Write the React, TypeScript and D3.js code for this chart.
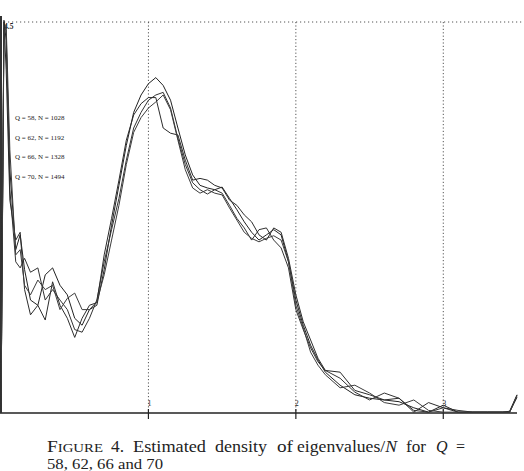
import React from 'react';
import * as d3 from 'd3';

// eigenvalue / N sample positions shared by all four estimates
const eig = [
  0, 0.02, 0.035, 0.06, 0.1, 0.13, 0.16, 0.2, 0.25, 0.3, 0.35, 0.4, 0.45, 0.5, 0.55, 0.6,
  0.65, 0.7, 0.75, 0.8, 0.85, 0.9, 0.95, 1.0, 1.05, 1.1, 1.15, 1.2, 1.25, 1.3, 1.35, 1.4,
  1.45, 1.5, 1.55, 1.6, 1.65, 1.7, 1.75, 1.8, 1.85, 1.9, 1.95, 2.0, 2.05, 2.1, 2.15, 2.2,
  2.3, 2.4, 2.5, 2.6, 2.7, 2.8, 2.9, 3.0, 3.1, 3.2, 3.3, 3.4, 3.45, 3.5,
];

const q58 = [
  0, 4.52, 4.29, 2.8, 1.88, 2.05, 1.65, 1.3, 1.24, 1.59, 1.67, 1.47, 1.36, 1.09, 1.01, 1.19,
  1.24, 1.65, 2.16, 2.62, 3.08, 3.46, 3.66, 3.79, 3.86, 3.77, 3.6, 3.28, 2.97, 2.74, 2.62, 2.59,
  2.57, 2.6, 2.47, 2.34, 2.2, 2.08, 1.99, 2.05, 2.11, 2.05, 1.74, 1.3, 1.01, 0.78, 0.61, 0.47,
  0.32, 0.21, 0.17, 0.15, 0.13, 0.06, 0.01, 0.09, 0.01, 0.01, 0.01, 0.01, 0.02, 0.21,
];
const q62 = [
  0, 4.43, 4.41, 2.57, 1.74, 1.67, 1.78, 1.62, 1.67, 1.3, 1.42, 1.3, 1.19, 0.96, 0.93, 1.09,
  1.3, 1.74, 2.11, 2.47, 2.91, 3.28, 3.46, 3.6, 3.66, 3.69, 3.51, 3.16, 2.86, 2.65, 2.57, 2.52,
  2.57, 2.53, 2.39, 2.24, 2.13, 1.99, 2.11, 2.13, 1.99, 1.9, 1.67, 1.19, 0.96, 0.75, 0.59, 0.49,
  0.4, 0.24, 0.15, 0.23, 0.17, 0.03, 0.01, 0.06, 0.03, 0.01, 0.01, 0.01, 0.01, 0.2,
];
const q66 = [
  0, 4.5, 3.95, 2.45, 1.99, 2.08, 1.42, 1.13, 1.24, 1.07, 1.51, 1.24, 1.09, 0.87, 1.09, 1.24,
  1.27, 1.82, 2.24, 2.68, 3.14, 3.43, 3.56, 3.63, 3.63, 3.28, 3.22, 3.2, 2.91, 2.68, 2.7, 2.68,
  2.62, 2.59, 2.45, 2.39, 2.28, 2.2, 2.05, 1.99, 2.13, 2.08, 1.78, 1.36, 1.05, 0.84, 0.63, 0.49,
  0.47, 0.26, 0.21, 0.15, 0.17, 0.01, 0.12, 0.06, 0.01, 0.01, 0.01, 0.01, 0.01, 0.18,
];
const q70 = [
  0, 4.35, 4.47, 3.03, 1.82, 1.88, 1.47, 1.36, 1.53, 1.42, 1.47, 1.19, 1.32, 1.38, 1.19, 1.19,
  1.28, 1.59, 1.99, 2.39, 2.86, 3.23, 3.4, 3.51, 3.58, 3.66, 3.49, 3.14, 2.8, 2.59, 2.53, 2.57,
  2.53, 2.51, 2.36, 2.22, 2.08, 2.01, 1.97, 2.01, 2.04, 1.99, 1.74, 1.24, 0.98, 0.7, 0.55, 0.44,
  0.29, 0.32, 0.23, 0.12, 0.09, 0.15, 0.03, 0.01, 0.01, 0.01, 0.01, 0.01, 0.01, 0.2,
];

const seriesLabels = ['Q = 58, N = 1028', 'Q = 62, N = 1192', 'Q = 66, N = 1328', 'Q = 70, N = 1494'];
const xTicks = [1, 2, 3];
const xMax = 3.5;
const yMax = 4.5;

const serif = '"Liberation Serif", "Times New Roman", serif';

export default function App() {
  const width = 524;
  const height = 471;
  const x = d3.scaleLinear().domain([0, xMax]).range([1, 517]);
  const y = d3.scaleLinear().domain([0, yMax]).range([413, 22]);

  const line = d3
    .line<number>()
    .x((_, i) => x(eig[i]))
    .y((d) => y(d));

  const series = [q58, q62, q66, q70];
  const strokes = ['#222', '#333', '#2c2c2c', '#3c3c3c'];

  return (
    <svg
      width={width}
      height={height}
      style={{ position: 'absolute', left: 0, top: 0, background: '#fff' }}
    >
      {/* dotted grid: top border and one vertical per tick */}
      <line x1={0} x2={width} y1={y(yMax)} y2={y(yMax)} stroke="#555" strokeWidth={1} strokeDasharray="1.2 2.8" />
      {xTicks.map((t) => (
        <line key={t} x1={x(t)} x2={x(t)} y1={y(yMax)} y2={y(0)} stroke="#555" strokeWidth={1} strokeDasharray="1.2 2.2" />
      ))}

      {/* axes */}
      <line x1={1} x2={1} y1={16} y2={y(0)} stroke="#333" strokeWidth={2} />
      <line x1={0} x2={x(xMax)} y1={y(0)} y2={y(0)} stroke="#222" strokeWidth={1.5} />
      {xTicks.map((t) => (
        <g key={t}>
          <line x1={x(t)} x2={x(t)} y1={y(0) - 4} y2={y(0) + 6} stroke="#222" strokeWidth={1.2} />
          <text x={x(t) + 1} y={y(0) - 7} fontSize={8} fontFamily={serif} textAnchor="middle" fill="#222">
            {t}
          </text>
        </g>
      ))}
      <text x={4} y={y(yMax) + 7} fontSize={7.5} fontWeight="bold" fontFamily={serif} fill="#222">
        {yMax}
      </text>

      {/* density estimates */}
      {series.map((s, i) => (
        <path key={i} d={line(s) ?? ''} fill="none" stroke={strokes[i]} strokeWidth={1} strokeLinejoin="round" />
      ))}

      {/* legend */}
      {seriesLabels.map((lab, i) => (
        <text key={lab} x={15} y={120 + i * 19.7} fontSize={7} fontFamily={serif} fill="#222">
          {lab}
        </text>
      ))}

      {/* caption */}
      <g fontFamily={serif} fontSize={16} fill="#222">
        <text x={47} y={452} textLength={56} lengthAdjust="spacingAndGlyphs">
          F<tspan fontSize={12.3}>IGURE</tspan>
        </text>
        <text x={111} y={452} textLength={13} lengthAdjust="spacingAndGlyphs">4.</text>
        <text x={133} y={452} textLength={73} lengthAdjust="spacingAndGlyphs">Estimated</text>
        <text x={215} y={452} textLength={52} lengthAdjust="spacingAndGlyphs">density</text>
        <text x={277} y={452} textLength={16} lengthAdjust="spacingAndGlyphs">of</text>
        <text x={297} y={452} textLength={100} lengthAdjust="spacingAndGlyphs">
          eigenvalues/<tspan fontStyle="italic">N</tspan>
        </text>
        <text x={406} y={452} textLength={20} lengthAdjust="spacingAndGlyphs">for</text>
        <text x={436} y={452} fontStyle="italic">Q</text>
        <text x={456} y={452}>=</text>
        <text x={47} y={469} fontSize={15} textLength={116} lengthAdjust="spacingAndGlyphs">58, 62, 66 and 70</text>
      </g>
    </svg>
  );
}
